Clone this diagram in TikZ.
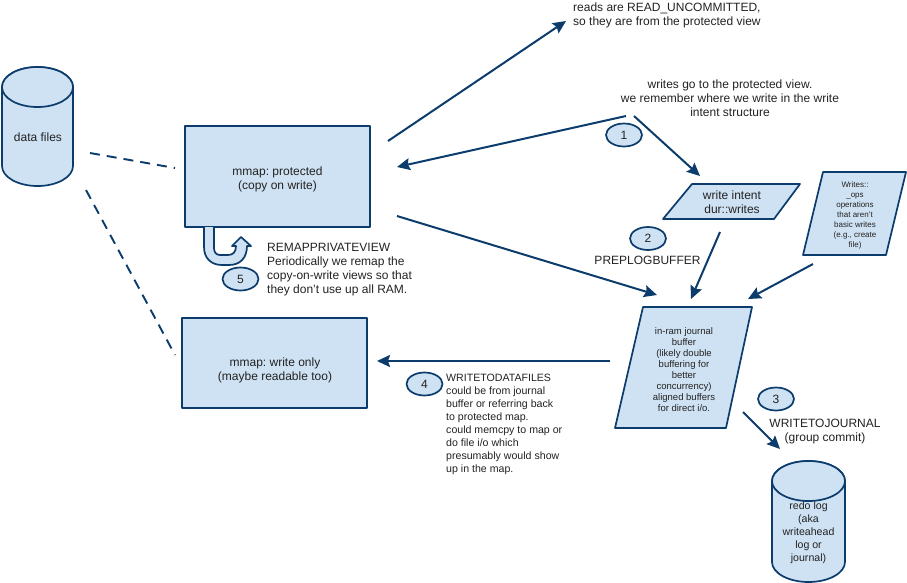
\documentclass[tikz,border=0pt]{standalone}
\usepackage{fontspec}
\setmainfont{Liberation Sans}
\usetikzlibrary{arrows.meta,shapes.geometric}
\definecolor{fillblue}{HTML}{CFE2F3}
\definecolor{lineblue}{HTML}{0B3C6B}
\definecolor{txt}{HTML}{222222}
\newcommand{\cyl}[4]{% left, right, top centre y, bottom centre y
  \pgfmathsetmacro{\rxv}{(#2-#1)/2}
  \draw[shape line] (#1,#3) arc[start angle=180,end angle=360,x radius=\rxv,y radius=20]
     -- (#2,#4) arc[start angle=0,end angle=180,x radius=\rxv,y radius=20] -- cycle;
  \draw[shape line] (#1,#3) arc[start angle=180,end angle=-180,x radius=\rxv,y radius=20];
}
\tikzset{
  shape line/.style={draw=lineblue,fill=fillblue,line width=1.7pt,line join=round},
  boxnode/.style={shape line,rectangle,inner sep=0pt},
  badge/.style={shape line,ellipse,minimum width=36pt,minimum height=23pt,inner sep=0pt,text=txt,font=\fontsize{12}{14}\selectfont},
  label/.style={text=txt,inner sep=0pt,font=\fontsize{12}{14}\selectfont\frenchspacing},
  inshape/.style={text=txt,inner sep=0pt,align=center},
  arrowline/.style={draw=lineblue,line width=2pt,-{Stealth[length=13pt,width=12pt,inset=2pt]}},
  dashline/.style={draw=lineblue,line width=1.9pt,dash pattern=on 10pt off 7pt},
}
\begin{document}
\frenchspacing
\begin{tikzpicture}[x=1pt,y=-1pt]
\useasboundingbox (0,0) rectangle (907,582);
% cylinders
\cyl{2}{73}{87}{166}
\node[inshape,font=\fontsize{12}{14}\selectfont] (data) at (38,137.5) {data files};
\cyl{772}{845}{481}{562}
\node[inshape,font=\fontsize{10.6}{13}\selectfont] (redo) at (808.5,533) {redo log\\(aka\\writeahead\\log or\\journal)};
% rectangles
\node[boxnode,minimum width=185pt,minimum height=101pt] (prot) at (277.5,176.5) {};
\node[inshape,font=\fontsize{12}{14}\selectfont] (prott) at (277.5,179.5) {mmap: protected\\(copy on write)};
\node[boxnode,minimum width=185pt,minimum height=90pt] (wonly) at (274.5,363) {};
\node[inshape,font=\fontsize{12}{14}\selectfont] (wonlyt) at (275,370.5) {mmap: write only\\(maybe readable too)};
% parallelograms
\draw[shape line] (692,184) -- (800,184) -- (774,219) -- (663,219) -- cycle;
\node[inshape,font=\fontsize{12}{14}\selectfont] (intent) at (732,202.5) {write intent\\dur::writes};
\draw[shape line] (823,172) -- (906,172) -- (886,255) -- (803,255) -- cycle;
\node[inshape,font=\fontsize{8}{10}\selectfont] (ops) at (855,215) {Writes::\\\_ops\\operations\\that aren't\\basic writes\\(e.g., create\\file)};
\draw[shape line] (643,307) -- (752,307) -- (726,428) -- (615,428) -- cycle;
\node[inshape,font=\fontsize{9.5}{11}\selectfont] (ram) at (684,370) {in-ram journal\\buffer\\(likely double\\buffering for\\better\\concurrency)\\aligned buffers\\for direct i/o.};
% badges
\node[badge] (b1) at (624,135) {1};
\node[badge] (b2) at (648,238.5) {2};
\node[badge] (b3) at (776,399) {3};
\node[badge] (b4) at (424.5,384) {4};
\node[badge] (b5) at (240.5,279) {5};
% u-turn arrow
\draw[shape line] (204,227) -- (204,247) .. controls (204,258) and (211,265) .. (222,265) -- (229,265)
  .. controls (240,265) and (247,258) .. (247,246) -- (251,246) -- (241,237) -- (232,246) -- (236,246)
  .. controls (236,252) and (233,255) .. (228,255) -- (220,255) .. controls (216,255) and (214,252) .. (214,248) -- (214,227);
% labels
\node[label,anchor=west,align=left] (reads) at (573,15) {reads are READ\_UNCOMMITTED,\\so they are from the protected view};
\node[label,align=center] (wr) at (730,98) {writes go to the protected view.\\we remember where we write in the write\\intent structure};
\node[label] (plb) at (647.5,260) {PREPLOGBUFFER};
\node[label,align=center] (wtj) at (825,432) {WRITETOJOURNAL\\(group commit)};
\node[label,anchor=west,align=left] (remap) at (267,270) {REMAPPRIVATEVIEW\\Periodically we remap the\\copy-on-write views so that\\they don’t use up all RAM.};
\node[label,anchor=west,align=left,font=\fontsize{10.6}{13}\selectfont] (wdf) at (446,424) {WRITETODATAFILES\\could be from journal\\buffer or referring back\\to protected map.\\could memcpy to map or\\do file i/o which\\presumably would show\\up in the map.};
% connector free ends
\coordinate (a1s) at (388,141); \coordinate (a1e) at (566,21);
\coordinate (a2s) at (626,116); \coordinate (a2e) at (397,167);
\coordinate (a3s) at (634,116); \coordinate (a3e) at (700,176);
\coordinate (a4s) at (720,232); \coordinate (a4e) at (691,299);
\coordinate (a5s) at (813,264); \coordinate (a5e) at (748,299);
\coordinate (a6s) at (397,216); \coordinate (a6e) at (657,295);
\coordinate (a7s) at (610,361); \coordinate (a7e) at (377,361);
\coordinate (a8s) at (743,412); \coordinate (a8e) at (780,449);
\coordinate (d1s) at (90,153); \coordinate (d1e) at (175,168);
\coordinate (d2s) at (86,190); \coordinate (d2e) at (175,355);
\foreach \n in {1,...,8} \draw[arrowline] (a\n s) -- (a\n e);
\draw[dashline] (d1s) -- (d1e);
\draw[dashline] (d2s) -- (d2e);
\end{tikzpicture}
\end{document}
